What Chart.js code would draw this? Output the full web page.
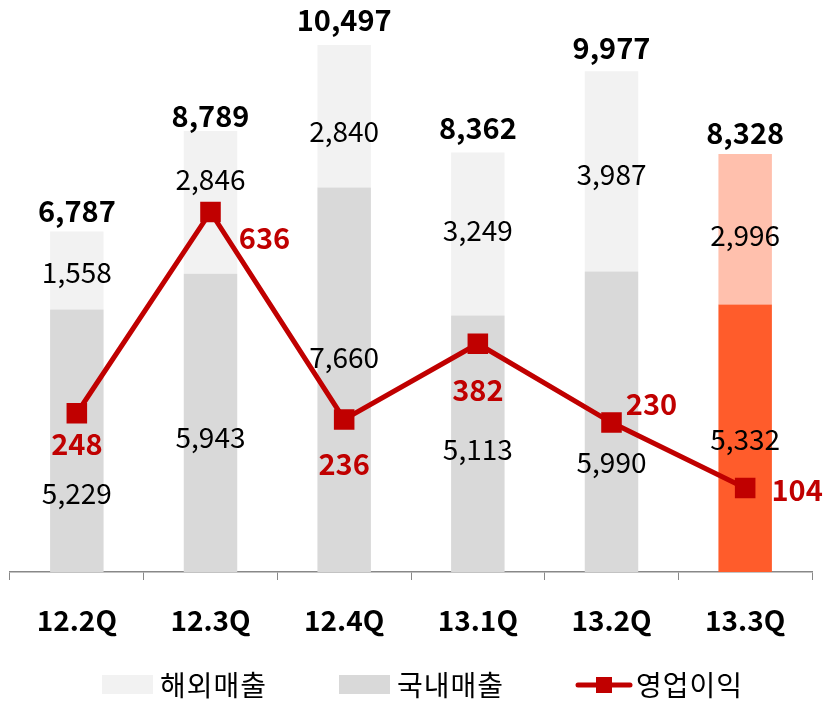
<!DOCTYPE html>
<html>
<head>
<meta charset="utf-8">
<script src="https://cdn.jsdelivr.net/npm/chart.js@4"></script>
<style>
  html, body { margin: 0; padding: 0; background: #fff; }
  #wrap { width: 823px; height: 704px; }
</style>
</head>
<body>
<div id="wrap"><canvas id="salesChart" width="823" height="704"></canvas></div>
<script>
// data
const quarters = ['12.2Q', '12.3Q', '12.4Q', '13.1Q', '13.2Q', '13.3Q'];
const domesticSales = [5229, 5943, 7660, 5113, 5990, 5332];
const overseasSales = [1558, 2846, 2840, 3249, 3987, 2996];
const totalSales = [6787, 8789, 10497, 8362, 9977, 8328];
const operatingProfit = [248, 636, 236, 382, 230, 104];

// label nudges (px), as placed in the original
const domesticLabelDy = [53, 14, -22, 6, 41, 1];
const overseasLabelDy = [2, -23, 15, -4, 3, 6];
const totalLabelDy = [-20, -15, -25, -24, -23, -21];
const profitLabelShift = [[0, 31], [54, 26], [0, 45], [0, 46], [40, -19], [52, 2]];

const FONT = '"Noto Sans CJK KR", "Noto Sans", sans-serif';
const RED = '#C00000';

const domesticColors = quarters.map((q, i) => i === quarters.length - 1 ? '#FF5C2B' : '#D9D9D9');
const overseasColors = quarters.map((q, i) => i === quarters.length - 1 ? '#FFC0AD' : '#F2F2F2');

const valueLabels = {
  id: 'valueLabels',
  afterDatasetsDraw(chart) {
    const ctx = chart.ctx;
    const x = chart.scales.x, y = chart.scales.y, y2 = chart.scales.y2;
    ctx.save();
    ctx.textAlign = 'center';
    ctx.textBaseline = 'middle';
    quarters.forEach((q, i) => {
      const cx = x.getPixelForValue(i);
      ctx.fillStyle = '#000';
      ctx.font = '28px ' + FONT;
      ctx.fillText(domesticSales[i].toLocaleString('en-US'), cx,
        y.getPixelForValue(domesticSales[i] / 2) + domesticLabelDy[i]);
      ctx.fillText(overseasSales[i].toLocaleString('en-US'), cx,
        y.getPixelForValue(domesticSales[i] + overseasSales[i] / 2) + overseasLabelDy[i]);
      ctx.font = 'bold 29px ' + FONT;
      ctx.fillText(totalSales[i].toLocaleString('en-US'), cx,
        y.getPixelForValue(domesticSales[i] + overseasSales[i]) + totalLabelDy[i]);
      ctx.fillStyle = RED;
      ctx.fillText(operatingProfit[i], cx + profitLabelShift[i][0],
        y2.getPixelForValue(operatingProfit[i]) + profitLabelShift[i][1]);
    });
    ctx.restore();
  }
};

const bottomLegend = {
  id: 'bottomLegend',
  afterDraw(chart) {
    const ctx = chart.ctx;
    const cy = 685;
    ctx.save();
    ctx.font = '28px ' + FONT;
    ctx.letterSpacing = '1px';
    ctx.textBaseline = 'middle';
    ctx.fillStyle = '#F2F2F2';
    ctx.fillRect(102, cy - 10, 51, 19);
    ctx.fillStyle = '#D9D9D9';
    ctx.fillRect(339, cy - 10, 51, 19);
    ctx.strokeStyle = RED;
    ctx.lineWidth = 5;
    ctx.lineCap = 'round';
    ctx.beginPath();
    ctx.moveTo(578, cy);
    ctx.lineTo(630, cy);
    ctx.stroke();
    ctx.fillStyle = RED;
    ctx.fillRect(596, cy - 8, 16, 16);
    ctx.fillStyle = '#000';
    ctx.fillText('해외매출', 160, cy);
    ctx.fillText('국내매출', 397, cy);
    ctx.fillText('영업이익', 636, cy);
    ctx.restore();
  }
};

new Chart(document.getElementById('salesChart'), {
  data: {
    labels: quarters,
    datasets: [
      {
        type: 'line',
        label: '영업이익',
        data: operatingProfit,
        yAxisID: 'y2',
        borderColor: RED,
        backgroundColor: RED,
        borderWidth: 5,
        pointStyle: 'rect',
        pointRadius: 11,
        pointHoverRadius: 11,
        tension: 0,
        order: 0
      },
      {
        type: 'bar',
        label: '국내매출',
        data: domesticSales,
        backgroundColor: domesticColors,
        stack: 'sales',
        barPercentage: 0.4,
        categoryPercentage: 1,
        order: 1
      },
      {
        type: 'bar',
        label: '해외매출',
        data: overseasSales,
        backgroundColor: overseasColors,
        stack: 'sales',
        barPercentage: 0.4,
        categoryPercentage: 1,
        order: 1
      }
    ]
  },
  options: {
    responsive: false,
    animation: false,
    layout: { autoPadding: false, padding: { top: 20, left: 10, right: 11, bottom: 0 } },
    plugins: {
      legend: { display: false },
      tooltip: { enabled: false }
    },
    scales: {
      x: {
        stacked: true,
        afterFit: s => { s.height = 132; },
        grid: { drawOnChartArea: false, tickLength: 8, color: '#888', offset: true },
        border: { color: '#888', width: 1.5 },
        ticks: { color: '#000', padding: 24, font: { family: FONT, size: 28, weight: 'bold' } }
      },
      y: { stacked: true, display: false, min: 0, max: 11000 },
      y2: { display: false, min: -58, max: 1006 }
    }
  },
  plugins: [valueLabels, bottomLegend]
});
</script>
</body>
</html>
